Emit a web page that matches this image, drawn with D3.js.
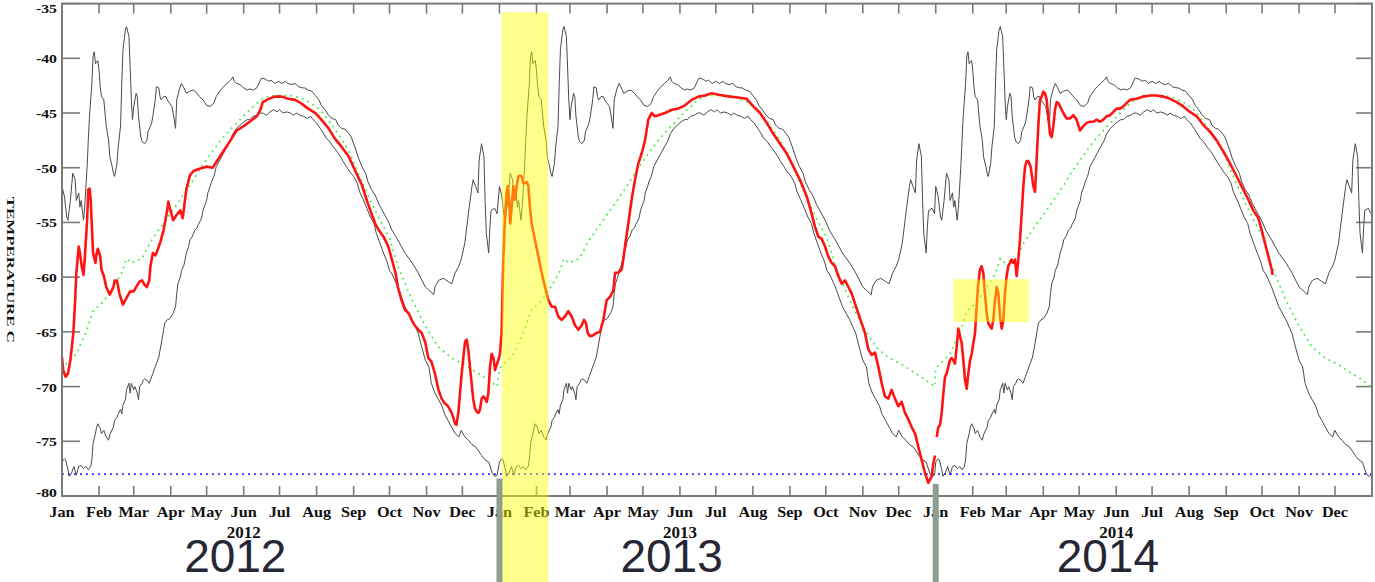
<!DOCTYPE html>
<html>
<head>
<meta charset="utf-8">
<script src="https://cdn.jsdelivr.net/npm/d3@7"></script>
<style>
  html, body { margin: 0; padding: 0; background: #fff; }
  svg { display: block; }
</style>
</head>
<body>
<svg id="chart" width="1375" height="582"></svg>
<script>
// ---- data -------------------------------------------------------------
const monthNames = ["Jan","Feb","Mar","Apr","May","Jun","Jul","Aug","Sep","Oct","Nov","Dec"];
const years = [2012, 2013, 2014];
const tempTicks = [-80, -75, -70, -65, -60, -55, -50, -45, -40, -35];

// Daily climatology, [day of year, °C]: record high, record low, mean
const climMax = [[0,-51.7],[2,-52.6],[4,-54.5],[5,-54.8],[7,-53.0],[9,-50.5],[11,-51.1],[12,-53.0],[14,-52.3],[15,-53.6],[16,-53.0],[18,-54.8],[19,-53.6],[21,-49.9],[22,-47.5],[23,-45.3],[25,-42.3],[26,-39.8],[27,-39.4],[28,-40.5],[30,-40.2],[31,-41.1],[32,-42.6],[33,-43.5],[35,-43.8],[36,-45.0],[37,-46.2],[39,-47.5],[40,-49.0],[42,-49.9],[43,-50.5],[44,-50.8],[46,-49.6],[47,-48.1],[49,-46.2],[50,-42.3],[51,-39.2],[53,-37.4],[54,-37.1],[56,-38.0],[57,-40.8],[58,-43.8],[59,-45.6],[60,-44.4],[62,-43.2],[63,-43.5],[64,-45.3],[66,-47.2],[67,-47.6],[69,-47.8],[71,-47.5],[72,-46.7],[74,-46.2],[75,-45.9],[76,-45.3],[78,-43.8],[79,-42.6],[81,-42.7],[82,-43.5],[83,-43.8],[85,-43.5],[87,-43.5],[88,-43.8],[90,-44.1],[92,-44.4],[93,-45.0],[95,-46.4],[96,-43.8],[98,-42.9],[100,-42.3],[102,-42.7],[104,-43.2],[107,-43.0],[110,-42.9],[113,-43.2],[115,-43.5],[118,-43.8],[121,-44.3],[124,-44.4],[127,-44.1],[129,-43.5],[132,-43.0],[135,-42.6],[138,-42.3],[141,-42.0],[143,-41.7],[144,-42.1],[146,-42.3],[149,-42.4],[152,-42.7],[155,-42.9],[157,-42.8],[160,-42.9],[163,-42.7],[166,-42.0],[167,-41.8],[170,-41.9],[173,-42.1],[175,-42.0],[178,-42.3],[181,-42.1],[184,-42.3],[187,-42.1],[189,-42.3],[192,-42.4],[195,-42.3],[198,-42.6],[201,-42.7],[203,-42.7],[206,-42.9],[209,-43.0],[212,-43.4],[215,-43.8],[217,-44.3],[220,-44.7],[223,-45.2],[226,-45.5],[229,-45.6],[231,-46.1],[234,-46.4],[237,-46.5],[240,-46.9],[242,-47.2],[245,-48.1],[248,-49.1],[251,-49.9],[254,-50.5],[256,-51.3],[259,-52.0],[262,-52.5],[265,-53.3],[267,-53.7],[270,-54.3],[273,-54.9],[276,-55.7],[281,-56.6],[287,-57.8],[293,-58.7],[298,-59.6],[304,-60.9],[308,-61.3],[311,-61.6],[312,-60.9],[315,-60.3],[319,-60.1],[323,-60.4],[326,-60.6],[329,-59.6],[332,-59.0],[334,-58.4],[337,-56.9],[340,-54.2],[343,-51.7],[344,-51.1],[346,-51.7],[348,-52.3],[349,-49.3],[351,-47.8],[353,-49.0],[354,-53.0],[355,-56.0],[357,-57.8],[358,-55.4],[359,-53.9],[362,-53.7],[364,-54.2]];

const climMin = [[0,-76.9],[2,-76.6],[3,-76.7],[5,-77.6],[6,-78.2],[8,-77.9],[10,-77.3],[12,-78.1],[14,-77.3],[16,-77.2],[18,-77.5],[20,-77.3],[22,-77.6],[24,-77.3],[25,-76.7],[26,-75.2],[28,-74.3],[29,-73.7],[30,-73.4],[32,-73.8],[33,-74.3],[35,-74.0],[36,-74.3],[37,-74.6],[39,-74.9],[40,-74.4],[43,-73.7],[44,-73.1],[46,-72.8],[47,-72.5],[49,-72.1],[50,-72.5],[51,-71.7],[53,-71.2],[54,-70.3],[56,-69.7],[57,-70.6],[58,-69.7],[60,-70.3],[61,-70.0],[63,-70.6],[64,-71.2],[65,-70.0],[67,-69.7],[68,-69.4],[69,-69.3],[71,-69.4],[73,-69.7],[75,-69.1],[76,-68.8],[78,-68.2],[79,-67.9],[81,-67.3],[82,-66.7],[83,-66.1],[85,-64.8],[86,-64.2],[88,-63.9],[90,-63.8],[93,-63.3],[95,-62.7],[96,-61.5],[97,-60.6],[99,-60.0],[100,-59.4],[102,-58.9],[103,-58.4],[104,-57.8],[106,-57.2],[107,-56.6],[109,-56.3],[110,-56.0],[111,-55.7],[113,-55.5],[114,-55.2],[116,-54.8],[117,-54.5],[118,-53.9],[120,-53.3],[121,-53.0],[122,-52.3],[124,-51.7],[125,-51.3],[127,-50.8],[128,-50.4],[129,-49.9],[132,-49.3],[135,-48.7],[138,-48.1],[141,-47.5],[143,-46.9],[146,-46.4],[149,-46.1],[152,-45.8],[155,-45.6],[157,-45.6],[160,-45.3],[163,-45.2],[166,-45.0],[168,-45.0],[171,-45.2],[174,-44.9],[177,-44.7],[180,-44.9],[182,-44.7],[185,-45.0],[188,-44.9],[191,-45.0],[194,-45.2],[196,-45.0],[199,-45.2],[202,-45.3],[205,-45.5],[208,-45.3],[210,-45.6],[213,-45.9],[216,-46.4],[219,-46.9],[221,-47.3],[224,-47.6],[227,-48.1],[230,-48.5],[233,-49.0],[235,-49.4],[238,-49.9],[241,-50.4],[244,-50.8],[247,-51.4],[249,-52.2],[252,-52.9],[255,-53.7],[258,-54.5],[261,-55.1],[263,-56.0],[266,-56.9],[269,-57.8],[272,-58.6],[274,-59.4],[276,-59.7],[281,-60.9],[287,-62.7],[293,-63.9],[298,-65.1],[301,-66.4],[304,-67.6],[307,-68.2],[309,-69.7],[312,-70.6],[315,-71.2],[318,-71.8],[320,-72.5],[323,-73.1],[326,-73.7],[329,-74.3],[332,-74.6],[334,-74.0],[337,-74.6],[340,-74.9],[343,-75.3],[346,-75.5],[348,-75.8],[351,-76.3],[354,-76.7],[357,-76.9],[360,-77.9],[362,-78.2],[364,-78.1]];

const climMean = [[0,-68.4],[1,-68.2],[12,-67.0],[21,-64.8],[26,-63.1],[35,-62.2],[43,-60.9],[50,-59.6],[54,-58.3],[58,-58.7],[67,-58.3],[74,-56.8],[82,-55.5],[90,-54.3],[99,-52.9],[107,-51.6],[115,-50.2],[124,-48.8],[132,-47.6],[141,-46.5],[149,-45.6],[157,-44.7],[166,-43.8],[174,-43.4],[182,-43.4],[191,-43.4],[199,-43.6],[207,-44.0],[216,-44.7],[224,-45.8],[233,-47.2],[241,-48.7],[249,-50.8],[258,-53.0],[266,-54.8],[274,-56.4],[281,-59.0],[293,-62.1],[304,-64.5],[315,-66.4],[326,-67.4],[337,-68.0],[348,-68.8],[357,-69.4],[364,-70.0]];

// Observed daily temperature, [days since 1 Jan 2012, °C]; null marks missing data
const observed = [[0,-67.3],[1,-68.5],[3,-69.1],[5,-68.8],[7,-67.6],[9.5,-65.1],[11,-62.1],[12,-59.6],[14,-57.2],[15,-57.8],[16.5,-59.0],[18,-59.8],[19,-58.4],[21,-54.8],[22,-52.0],[23,-51.9],[24,-52.9],[25,-55.4],[26,-57.8],[28,-58.7],[29,-57.8],[30,-57.4],[32,-58.1],[33,-59.3],[35,-59.9],[37,-60.9],[40,-61.6],[43,-60.9],[44,-60.3],[46,-60.3],[48,-61.5],[51,-62.5],[54,-61.9],[57,-61.3],[60,-61.3],[62,-60.9],[65,-60.4],[67,-60.3],[69,-60.7],[71,-60.9],[73,-60.3],[74,-59.0],[76,-57.8],[78,-58.0],[79,-57.8],[82,-56.9],[85,-55.7],[88,-53.9],[89,-53.1],[90,-53.6],[93,-54.8],[96,-54.3],[99,-53.9],[101,-54.6],[104,-52.0],[107,-50.7],[110,-50.3],[115,-50.1],[121,-49.9],[126,-50.0],[129,-49.5],[135,-48.5],[141,-47.5],[146,-46.6],[152,-46.2],[157,-45.8],[163,-45.3],[166,-44.7],[168,-44.0],[173,-43.7],[178,-43.5],[184,-43.5],[189,-43.7],[195,-43.8],[200,-44.1],[206,-44.6],[212,-45.0],[217,-45.6],[223,-46.4],[228,-47.3],[234,-48.1],[240,-49.0],[245,-50.2],[251,-51.6],[256,-53.3],[262,-55.1],[265,-55.7],[269,-56.3],
[273,-57.2],[276,-58.4],[279,-59.6],[281,-60.9],[284,-62.1],[287,-63.0],[290,-63.3],[292.5,-63.9],[295,-64.4],[298,-64.8],[301,-65.1],[304,-66.0],[306.5,-67.4],[309,-67.7],[312,-68.8],[315,-70.3],[317.6,-71.1],[320,-71.5],[323,-71.8],[326,-72.4],[329,-73.4],[330,-73.5],[331.6,-72.4],[333,-70.6],[334.4,-68.8],[335.8,-67.3],[337.2,-65.9],[338.6,-65.7],[340,-66.7],[341.3,-68.2],[342.7,-69.7],[344.1,-71.2],[345.5,-72.0],[347,-72.3],[348.3,-72.4],[349.7,-72.1],[351.1,-71.1],[352.5,-70.9],[354,-71.1],[355.3,-71.4],[356.7,-70.6],[358.1,-68.2],[359.5,-67.0],[361,-67.4],[362.3,-68.5],[363.7,-68.0],[365,-67.6],[366.4,-67.0],[367.8,-65.1],[368.4,-62.1],[369.2,-58.4],[370.6,-54.5],[372,-52.3],[373,-51.7],[374,-52.9],[375,-55.1],[376.2,-53.6],[377.6,-51.7],[379,-52.9],[380.4,-51.7],[381.8,-50.8],[383.2,-50.7],[384.6,-50.8],[386,-51.4],[387.4,-51.4],[388.8,-51.3],[390.1,-51.6],[391.5,-53.6],[392.9,-55.1],[395.7,-56.6],[398.5,-58.1],[401.3,-59.6],[404.1,-60.9],[406.9,-62.1],[409.7,-62.7],[412.5,-62.7],[415.2,-63.6],[418,-63.9],[420.8,-63.6],[423.6,-63.1],[426.4,-63.6],[429.2,-64.4],[432,-64.8],[434.8,-64.4],[436.7,-63.9],[438.4,-64.2],[439.8,-65.1],[441.7,-65.4],[444.5,-65.3],[447.3,-65.1],[450.1,-65.0],[452.9,-63.9],[455.7,-62.1],[458.5,-61.8],[461.3,-61.2],[462.7,-59.6],[465.4,-59.6],[468.2,-59.3],[469.6,-58.4],[471,-57.2],[473.8,-55.1],[476.6,-52.9],[479.4,-51.1],[482.2,-49.6],[485,-48.7],[487.8,-47.5],[490.5,-45.6],[493.3,-45.0],[496.1,-45.3],[498.9,-45.2],[504.5,-45.0],[510.1,-44.7],[515.6,-44.6],[521.2,-44.3],[526.8,-43.8],[532.4,-43.5],[538,-43.4],[543.5,-43.2],
[550.5,-43.35],[558.9,-43.5],[567.2,-43.6],[572.8,-43.7],[578.4,-44.4],[584,-45.0],[589.6,-45.9],[595.1,-46.9],[600.7,-47.8],[606.3,-48.7],[611.9,-49.9],[617.4,-51.1],[623,-52.6],[627.2,-54.2],[630,-55.4],[632.8,-56.3],[635.6,-56.5],[638.4,-57.2],[641.1,-58.1],[643.9,-58.7],[646.7,-59.0],[649.5,-59.9],[652.3,-60.6],[655.1,-60.3],[657.9,-60.9],[660.7,-61.5],[663.4,-62.4],[666.2,-63.3],[669,-64.2],[671.8,-65.1],[674.6,-66.6],[677.4,-67.1],[680.2,-66.9],[683,-68.2],[685.8,-69.7],[688.5,-70.9],[691.3,-71.1],[694.1,-70.3],[696.9,-71.1],[699.7,-71.8],[702.5,-71.4],[705.3,-72.4],[708.1,-73.0],[710.9,-73.7],[713.7,-74.3],[716.4,-75.5],[719.2,-76.7],[722,-77.9],[724.8,-78.8],[727.6,-78.2],[729,-77.0],[730.4,-76.3],[731,null],[731.8,-74.6],[733.2,-73.7],[734.6,-73.5],[736,-72.4],[737.4,-70.6],[738.8,-69.1],[740.1,-68.8],[741.5,-68.2],[742.9,-67.6],[744.3,-67.4],[745.7,-67.6],[747.1,-67.9],[748.5,-66.4],[749.9,-64.7],[751.3,-65.4],[752.7,-66.0],[754.1,-67.6],[755.5,-69.4],[756.9,-70.2],[758.3,-68.8],[759.7,-67.6],[761.1,-67.0],[762.5,-66.0],[763.9,-65.1],[765.2,-62.7],[766.6,-60.6],[768,-59.3],[769.4,-59.0],[770.8,-59.6],[772.2,-61.5],[773.6,-63.3],[775,-64.2],[776.4,-64.5],[777.8,-64.7],[779.2,-63.9],[780.6,-62.1],[782,-60.9],[783.4,-61.5],[784.8,-63.6],[786.2,-64.7],[787.6,-63.9],[788.9,-61.5],[790.3,-59.9],[791.7,-59.0],[793.1,-58.7],[794.5,-58.4],[795.9,-58.7],[797.3,-58.4],[798.7,-59.9],[800.1,-58.4],[801.5,-56.6],[802.9,-54.2],[804.3,-51.7],[805.7,-49.9],[807.1,-49.4],[808.5,-49.4],[810.4,-49.9],[812.7,-51.7],[814.1,-52.2],[815.4,-49.3],[816.8,-46.2],[818.2,-43.8],
[819.6,-43.5],[821,-43.05],[822.4,-43.2],[823.8,-43.8],[825.2,-45.3],[826.6,-46.9],[828,-47.2],[829.4,-46.2],[830.8,-44.7],[832.2,-44.0],[833.6,-44.1],[835,-44.4],[837.8,-45.0],[840.5,-45.5],[843.3,-45.5],[846.1,-45.2],[848.9,-45.6],[851.7,-46.6],[854.5,-46.2],[857.3,-45.9],[860.1,-45.8],[862.9,-45.8],[865.6,-45.6],[868.4,-45.8],[871.2,-45.6],[874,-45.3],[876.8,-45.2],[879.6,-44.9],[882.4,-44.6],[885.2,-44.6],[888,-44.4],[890.7,-44.1],[893.5,-43.8],[899.1,-43.7],[904.7,-43.5],[910.3,-43.4],[915.8,-43.4],[921.4,-43.5],[927,-43.7],[932.6,-44.0],[938.1,-44.4],[943.7,-44.9],[949.3,-45.3],[954.9,-46.1],[960.5,-46.7],[966,-47.5],[971.6,-48.5],[977.2,-49.6],[982.8,-50.8],[988.3,-52.0],[992.5,-52.9],[996.7,-53.9],[1000.9,-54.6],[1003.7,-55.7],[1006.5,-56.9],[1009.3,-58.1],[1012.1,-59.3],[1012.9,-59.8]];

const thresholdTemp = -78;

// Highlighted periods: date span and temperature span (null = down to page foot)
const highlights = [
  { from: "2013-01-03", to: "2013-02-11", top: -35.8, bottom: null },
  { from: "2014-01-16", to: "2014-03-20", top: -60.2, bottom: -64.1 }
];
// Year boundary markers
const yearMarks = [
  { date: "2013-01-01", top: -78.4 },
  { date: "2014-01-01", top: -78.9 }
];
// Large year captions, placed at late May of each year
const yearCaptions = [
  { text: "2012", date: "2012-05-25" },
  { text: "2013", date: "2013-05-25" },
  { text: "2014", date: "2014-05-25" }
];

// ---- layout -----------------------------------------------------------
const W = 1375, H = 582;
const plot = { left: 62, right: 1372, top: 3.6, bottom: 496 };
const DAY = 864e5;
const base = Date.UTC(2012, 0, 1);
const serif = "'Liberation Serif', 'Times New Roman', serif";

const x = d3.scaleUtc()
  .domain([new Date(base), new Date(Date.UTC(2015, 0, 1))])
  .range([plot.left, plot.right]);
const y = d3.scaleLinear().domain([-80, -35]).range([plot.bottom, plot.top]);

const svg = d3.select("#chart");

// repeat a day-of-year climatology over each year of the record
function spreadOverYears(series) {
  const out = [];
  years.forEach(yr => {
    const start = Date.UTC(yr, 0, 1);
    series.forEach(([doy, v]) => out.push([new Date(start + doy * DAY), v]));
  });
  return out;
}

const line = d3.line()
  .defined(d => d[1] != null)
  .x(d => x(d[0]))
  .y(d => y(d[1]));

// ---- frame and ticks --------------------------------------------------
const monthStarts = d3.utcMonth.range(new Date(base), new Date(Date.UTC(2015, 0, 1)));
const axisG = svg.append("g").attr("stroke", "#7a7a7a").attr("stroke-width", 1.6);

axisG.selectAll("line.tb").data(monthStarts.slice(1)).join("line")
  .attr("x1", d => x(d)).attr("x2", d => x(d))
  .attr("y1", plot.bottom).attr("y2", plot.bottom - 10);
axisG.selectAll("line.tt").data(monthStarts.slice(1)).join("line")
  .attr("x1", d => x(d)).attr("x2", d => x(d))
  .attr("y1", plot.top).attr("y2", plot.top + 10);
axisG.selectAll("line.yl").data(tempTicks).join("line")
  .attr("x1", plot.left).attr("x2", plot.left + 18)
  .attr("y1", d => y(d)).attr("y2", d => y(d));
axisG.selectAll("line.yr").data(tempTicks).join("line")
  .attr("x1", plot.right).attr("x2", plot.right - 16)
  .attr("y1", d => y(d)).attr("y2", d => y(d));

// ---- climatology envelopes ---------------------------------------------
svg.append("path").datum(spreadOverYears(climMax))
  .attr("fill", "none").attr("stroke", "#4a4a4a").attr("stroke-width", 1)
  .attr("d", line);
svg.append("path").datum(spreadOverYears(climMin))
  .attr("fill", "none").attr("stroke", "#4a4a4a").attr("stroke-width", 1)
  .attr("d", line);
svg.append("path").datum(spreadOverYears(climMean))
  .attr("fill", "none").attr("stroke", "#3ee83e").attr("stroke-width", 1.7)
  .attr("stroke-dasharray", "1.7,4.3")
  .attr("d", line);

// threshold line
svg.append("line")
  .attr("x1", plot.left).attr("x2", plot.right)
  .attr("y1", y(thresholdTemp)).attr("y2", y(thresholdTemp))
  .attr("stroke", "#1f1fff").attr("stroke-width", 1.8)
  .attr("stroke-dasharray", "1.8,4.2");

// observed series
svg.append("path")
  .datum(observed.map(([d, v]) => [new Date(base + d * DAY), v]))
  .attr("fill", "none").attr("stroke", "#ff1414").attr("stroke-width", 2.6)
  .attr("stroke-linejoin", "round")
  .attr("d", line);

// frame on top of data
svg.append("rect")
  .attr("x", plot.left).attr("y", plot.top)
  .attr("width", plot.right - plot.left).attr("height", plot.bottom - plot.top)
  .attr("fill", "none").attr("stroke", "#7a7a7a").attr("stroke-width", 2);

// ---- labels -----------------------------------------------------------
svg.append("g").selectAll("text").data(tempTicks).join("text")
  .attr("x", 57)
  .attr("y", d => Math.min(Math.max(y(d) + 5, 13.3), 496.7))
  .attr("text-anchor", "end")
  .attr("font-family", serif).attr("font-weight", "bold").attr("font-size", 12.5)
  .attr("textLength", 21).attr("lengthAdjust", "spacingAndGlyphs")
  .attr("fill", "#111")
  .text(d => d);

svg.append("g").selectAll("text").data(monthStarts).join("text")
  .attr("transform", d => `translate(${x(d)},517) scale(1.12,1)`)
  .attr("text-anchor", "middle")
  .attr("font-family", serif).attr("font-weight", "bold").attr("font-size", 14.5)
  .attr("fill", "#111")
  .text(d => monthNames[d.getUTCMonth()]);

svg.append("g").selectAll("text").data(years).join("text")
  .attr("x", yr => x(new Date(Date.UTC(yr, 5, 1))))
  .attr("y", 538)
  .attr("text-anchor", "middle")
  .attr("font-family", serif).attr("font-weight", "bold").attr("font-size", 17)
  .attr("fill", "#111")
  .text(yr => yr);

svg.append("text")
  .attr("transform", `translate(6.5,${(plot.top + plot.bottom) / 2 + 20}) rotate(90)`)
  .attr("text-anchor", "middle")
  .attr("font-family", serif).attr("font-weight", "bold").attr("font-size", 10.5)
  .attr("textLength", 146).attr("lengthAdjust", "spacingAndGlyphs")
  .attr("fill", "#111")
  .text("TEMPERATURE C");

// ---- annotations ------------------------------------------------------
svg.append("g").selectAll("rect").data(highlights).join("rect")
  .attr("x", d => x(new Date(d.from)))
  .attr("width", d => x(new Date(d.to)) - x(new Date(d.from)))
  .attr("y", d => y(d.top))
  .attr("height", d => (d.bottom == null ? H : y(d.bottom)) - y(d.top))
  .attr("fill", "#ffff00").attr("fill-opacity", 0.45);

svg.append("g").selectAll("rect").data(yearMarks).join("rect")
  .attr("x", d => x(new Date(d.date)) - 3)
  .attr("width", 6)
  .attr("y", d => y(d.top))
  .attr("height", d => H - y(d.top))
  .attr("fill", "#8d9d90");

svg.append("g").selectAll("text").data(yearCaptions).join("text")
  .attr("x", d => x(new Date(d.date)))
  .attr("y", 572)
  .attr("text-anchor", "middle")
  .attr("font-family", "'Liberation Sans', Arial, sans-serif").attr("font-size", 46)
  .attr("fill", "#262634")
  .text(d => d.text);
</script>
</body>
</html>
